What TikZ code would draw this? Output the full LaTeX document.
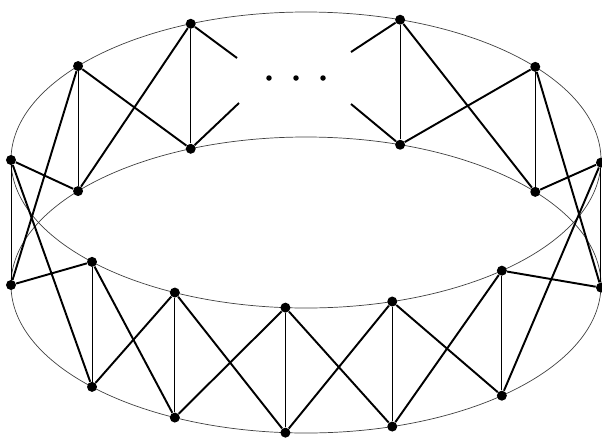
\documentclass[tikz,border=0pt]{standalone}
\usetikzlibrary{calc}

\begin{document}
\begin{tikzpicture}[
  rim/.style={black!75, line width=0.4pt},
  vtx/.style={circle, fill=black, inner sep=0pt, minimum size=2mm},
  rung/.style={line width=0.55pt},
  tie/.style={line width=1.1pt},
  gapdot/.style={circle, fill=black, inner sep=0pt, minimum size=1.1mm}
]
  \useasboundingbox (-6.12,3.2) rectangle (5.92,-5.54);

  % Rims
  \draw[rim] (0,0) ellipse (5.9 and 2.96);
  \draw[rim] (0,-2.5) ellipse (5.9 and 2.96);

  % Vertices, top and bottom
  \foreach \a [count=\i] in {71.4,39,-1,-48.4,-73,-94,-116.4,-136.5,180,140.6,113} {
    \node[vtx] (t\i) at ({5.9*cos(\a)},{2.96*sin(\a)}) {};
    \node[vtx] (b\i) at ({5.9*cos(\a)},{2.96*sin(\a)-2.5}) {};
    \draw[rung] (t\i) -- (b\i);
  }

  % Crossings between neighbours
  \foreach \i [count=\j from 2] in {1,...,10} {
    \draw[tie] (t\i) -- (b\j);
    \draw[tie] (b\i) -- (t\j);
  }

  % Open ends at the gap
  \coordinate (e1) at (0.90,2.16);
  \coordinate (e2) at (0.90,1.12);
  \coordinate (e3) at (-1.38,2.04);
  \coordinate (e4) at (-1.34,1.14);
  \draw[tie] (t1) -- (e1);
  \draw[tie] (b1) -- (e2);
  \draw[tie] (t11) -- (e3);
  \draw[tie] (b11) -- (e4);

  \node[gapdot] (d1) at (-0.74,1.64) {};
  \node[gapdot] (d2) at (-0.20,1.64) {};
  \node[gapdot] (d3) at (0.34,1.64) {};
\end{tikzpicture}
\end{document}
